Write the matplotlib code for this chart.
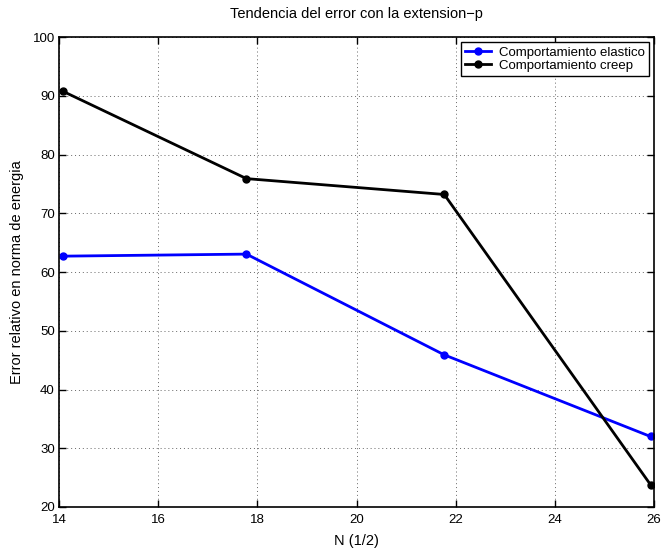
import matplotlib
matplotlib.use("Agg")
import matplotlib.pyplot as plt

plt.rcParams['font.family'] = ['Liberation Sans', 'DejaVu Sans']

# Data
n_half = [14.07, 17.78, 21.77, 25.93]
err_elastic = [62.7, 63.05, 45.9, 32.0]
err_creep = [90.8, 75.9, 73.2, 23.8]

x_ticks = [14, 16, 18, 20, 22, 24, 26]
y_ticks = [20, 30, 40, 50, 60, 70, 80, 90, 100]

fig = plt.figure(figsize=(6.64, 5.53), dpi=100)
ax = fig.add_axes([0.0889, 0.0832, 0.896, 0.8498])

ax.plot(n_half, err_elastic, '-o', color='#0000ff', lw=2, ms=5,
        label='Comportamiento elastico')
ax.plot(n_half, err_creep, '-o', color='black', lw=2, ms=5,
        label='Comportamiento creep')

ax.set_xlim(14, 26)
ax.set_ylim(20, 100)
ax.set_xticks(x_ticks)
ax.set_yticks(y_ticks)
ax.tick_params(direction='in', top=True, right=True, labelsize=9.5,
               length=5, width=1)
ax.tick_params(axis='x', pad=5)
ax.tick_params(axis='y', pad=3)
ax.grid(True, linestyle=(0, (1, 3)), color='#666666', lw=0.7)
for s in ax.spines.values():
    s.set_linewidth(1.2)

ax.set_title('Tendencia del error con la extension\u2212p', fontsize=10.5, pad=14)
ax.set_xlabel('N (1/2)', fontsize=10.5, labelpad=6)
ax.set_ylabel('Error relativo en norma de energia', fontsize=10.5, labelpad=6)

leg = ax.legend(loc='upper right', fontsize=9.5, fancybox=False,
                framealpha=1, edgecolor='black', borderpad=0.3,
                handlelength=2.0, handletextpad=0.6, labelspacing=0.1,
                borderaxespad=0.4)
leg.get_frame().set_linewidth(1)

fig.savefig('out.png', dpi=100)
